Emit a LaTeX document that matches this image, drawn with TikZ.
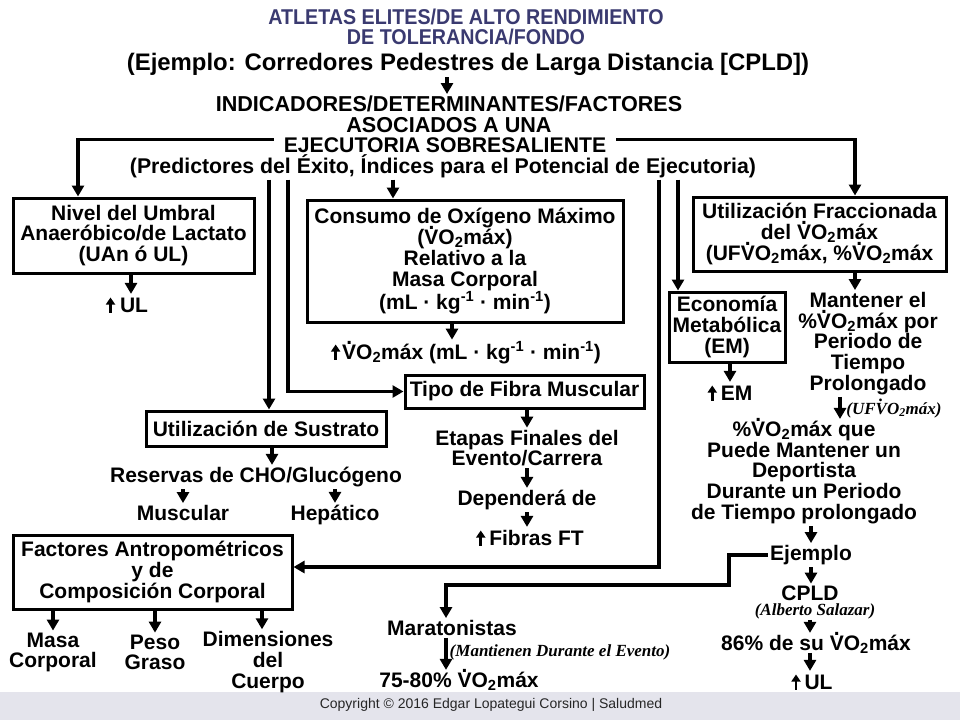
\documentclass[tikz,border=0pt]{standalone}
\usepackage{fontspec}
\setmainfont{Liberation Sans}
\newfontfamily\estrecha[FakeStretch=0.92]{Liberation Sans}
\newfontfamily\serifit{Liberation Serif}
\usetikzlibrary{arrows.meta}
\definecolor{titulo}{RGB}{58,58,112}
\definecolor{franja}{RGB}{228,228,236}
\newcommand\vdot{\leavevmode\setbox0\hbox{V}\rlap{\hbox to\wd0{\hss\smash{\raisebox{.72em}{.}}\hss}}V}
\newcommand\vo{\vdot O\smash{\textsubscript{2}}}
\newcommand\arriba{\tikz[baseline=0pt]\draw[line width=2.8pt,-{Triangle[length=7pt,width=9pt]}] (0pt,0pt) -- (0pt,15pt);}

\begin{document}
\begin{tikzpicture}[x=1pt,y=-1pt,font=\bfseries\fontsize{21pt}{20.7pt}\selectfont]
\tikzset{caja/.style={draw, line width=3pt, align=center, inner sep=0pt},
  texto/.style={align=center, inner sep=2pt},
  linea/.style={texto, anchor=base},
  nota/.style={inner sep=1pt, font=\serifit\bfseries\itshape\fontsize{17pt}{18pt}\selectfont},
  flecha/.style={line width=3.5pt, -{Triangle[length=11pt,width=12pt]}}}
\fill[white] (0,0) rectangle (960,720);
\useasboundingbox (0,0) rectangle (960,720);
\fill[franja] (0,692) rectangle (960,720);
\node[linea, text=titulo, font=\estrecha\bfseries\fontsize{21.4pt}{20pt}\selectfont] (t1) at (466,24) {ATLETAS ELITES/DE ALTO RENDIMIENTO};
\node[linea, text=titulo, font=\estrecha\bfseries\fontsize{21.4pt}{20pt}\selectfont] (t2) at (466,44) {DE TOLERANCIA/FONDO};
\node[linea, font=\bfseries\fontsize{23.9pt}{24pt}\selectfont] (t3) at (468,70) {(Ejemplo: Corredores Pedestres de Larga Distancia [CPLD])};
\node[texto, font=\bfseries\fontsize{21.6pt}{20.7pt}\selectfont] (ind) at (449,114.5) {INDICADORES/DETERMINANTES/FACTORES\\ASOCIADOS A UNA};
\node[linea, inner xsep=10pt, font=\bfseries\fontsize{21.2pt}{20.7pt}\selectfont] (ejec) at (445,152) {EJECUTORIA SOBRESALIENTE};
\node[linea, font=\bfseries\fontsize{21.3pt}{20.7pt}\selectfont] (pred) at (443,173) {(Predictores del Éxito, Índices para el Potencial de Ejecutoria)};
\node[caja, minimum width=241pt, minimum height=75pt] (nivel) at (133.5,235.5) {Nivel del Umbral\\Anaeróbico/de Lactato\\(UAn ó UL)};
\node[caja, minimum width=316pt, minimum height=122pt] (consumo) at (465,261) {Consumo de Oxígeno Máximo\\(\vo máx)\\Relativo a la\\Masa Corporal\\(mL · kg\textsuperscript{-1} · min\textsuperscript{-1})};
\node[caja, minimum width=253pt, minimum height=74pt] (uf) at (819.5,234) {Utilización Fraccionada\\del \vo máx\\(UF\vo máx, \%\vo máx};
\node[caja, minimum width=116pt, minimum height=70pt] (econ) at (727,327) {Economía\\Metabólica\\(EM)};
\node[caja, minimum width=239pt, minimum height=33pt] (tipo) at (524.5,391.5) {Tipo de Fibra Muscular};
\node[caja, minimum width=240pt, minimum height=35pt] (sustrato) at (266,428.5) {Utilización de Sustrato};
\node[caja, minimum width=279pt, minimum height=74pt] (factores) at (152.5,572) {Factores Antropométricos\\y de\\Composición Corporal};
\node[linea] (ul1) at (127,312.5) {\arriba\hspace{5pt}UL};
\node[linea] (vo2) at (466,359.5) {\arriba\hspace{2pt}\vo máx (mL · kg\textsuperscript{-1} · min\textsuperscript{-1})};
\node[linea] (reservas) at (256,482.5) {Reservas de CHO/Glucógeno};
\node[linea] (muscular) at (183,520.5) {Muscular};
\node[linea] (hepatico) at (335,520.5) {Hepático};
\node[texto] (etapas) at (527,448) {Etapas Finales del\\Evento/Carrera};
\node[linea] (dep) at (527,505.5) {Dependerá de};
\node[linea] (fibras) at (530,545.5) {\arriba\hspace{4pt}Fibras FT};
\node[texto] (masa) at (53,652.5) {Masa\\Corporal};
\node[texto] (peso) at (155,652.5) {Peso\\Graso};
\node[texto] (dim) at (268,662) {Dimensiones\\del\\Cuerpo};
\node[linea] (maraton) at (452,635.5) {Maratonistas};
\node[nota] (durante) at (560,652) {(Mantienen Durante el Evento)};
\node[linea] (p7580) at (459,687.5) {75-80\% \vo máx};
\node[linea] (em) at (730,400.5) {\arriba\hspace{4pt}EM};
\node[texto] (mant) at (868,343.5) {Mantener el\\\%\vo máx por\\Periodo de\\Tiempo\\Prolongado};
\node[nota] (ufl) at (894,410) {(UF\vo máx)};
\node[texto] (pct) at (804,472.5) {\%\vo máx que\\Puede Mantener un\\Deportista\\Durante un Periodo\\de Tiempo prolongado};
\node[linea] (ejemplo) at (811,560.5) {Ejemplo};
\node[linea] (cpld) at (810,600.5) {CPLD};
\node[nota] (salazar) at (815,611) {(Alberto Salazar)};
\node[linea] (p86) at (816,650.5) {86\% de su \vo máx};
\node[linea] (ul2) at (812,689.5) {\arriba\hspace{4pt}UL};
\node[font=\fontsize{14pt}{15pt}\selectfont, text=black!85] (copy) at (491,705) {Copyright © 2016 Edgar Lopategui Corsino | Saludmed};
\draw[flecha] ([xshift=-21pt]t3.south) -- ([xshift=-21pt]t3.south |- ind.north);
\draw[flecha] ([yshift=5pt]ejec.west) -| ([xshift=-55.5pt]nivel.north);
\draw[flecha] ([yshift=5pt]ejec.east) -| ([xshift=35.5pt]uf.north);
\draw[flecha] ([xshift=3pt]sustrato.north |- pred.south) -- ([xshift=3pt]sustrato.north);
\draw[flecha] ([xshift=-155pt]pred.south) |- (tipo.west);
\draw[flecha] ([xshift=-50pt]pred.south) -- ([xshift=-50pt]pred.south |- consumo.north);
\draw[flecha] ([xshift=216pt]pred.south) |- ([yshift=5pt]factores.east);
\draw[flecha] ([xshift=235pt]pred.south) -- ([xshift=235pt]pred.south |- econ.north);
\draw[flecha] ([xshift=4pt]ul1.north |- nivel.south) -- ([xshift=4pt]ul1.north);
\draw[flecha] ([xshift=-13pt]consumo.south) -- ([xshift=-13pt]consumo.south |- vo2.north);
\draw[flecha] (etapas.north |- tipo.south) -- (etapas.north);
\draw[flecha] (etapas.south) -- (dep.north);
\draw[flecha] (dep.south) -- (dep.south |- fibras.north);
\draw[flecha] ([xshift=6pt]sustrato.south) -- ([xshift=6pt]sustrato.south |- reservas.north);
\draw[flecha] (muscular.north |- reservas.south) -- (muscular.north);
\draw[flecha] (hepatico.north |- reservas.south) -- (hepatico.north);
\draw[flecha] (masa.north |- factores.south) -- (masa.north);
\draw[flecha] (peso.north |- factores.south) -- (peso.north);
\draw[flecha] ([xshift=-6pt]dim.north |- factores.south) -- ([xshift=-6pt]dim.north);
\draw[flecha] (ejemplo.west) -- ++(-39,0) -- ++(0,30) -| ([xshift=-6pt]maraton.north);
\draw[flecha] ([xshift=-6pt]maraton.south) -- ([xshift=-6pt]maraton.south |- p7580.north);
\draw[flecha] ([xshift=35.5pt]uf.south) -- ([xshift=35.5pt]uf.south |- mant.north);
\draw[flecha] ([xshift=-28pt]mant.south) -- ([xshift=-28pt]mant.south |- pct.north);
\draw[flecha] (em.north |- econ.south) -- (em.north);
\draw[flecha] (ejemplo.north |- pct.south) -- (ejemplo.north);
\draw[flecha] (ejemplo.south) -- (ejemplo.south |- cpld.north);
\draw[flecha] (salazar.south -| cpld.south) -- (p86.north -| cpld.south);
\draw[flecha] ([xshift=-6pt]p86.south) -- ([xshift=-6pt]p86.south |- ul2.north);
\end{tikzpicture}
\end{document}
